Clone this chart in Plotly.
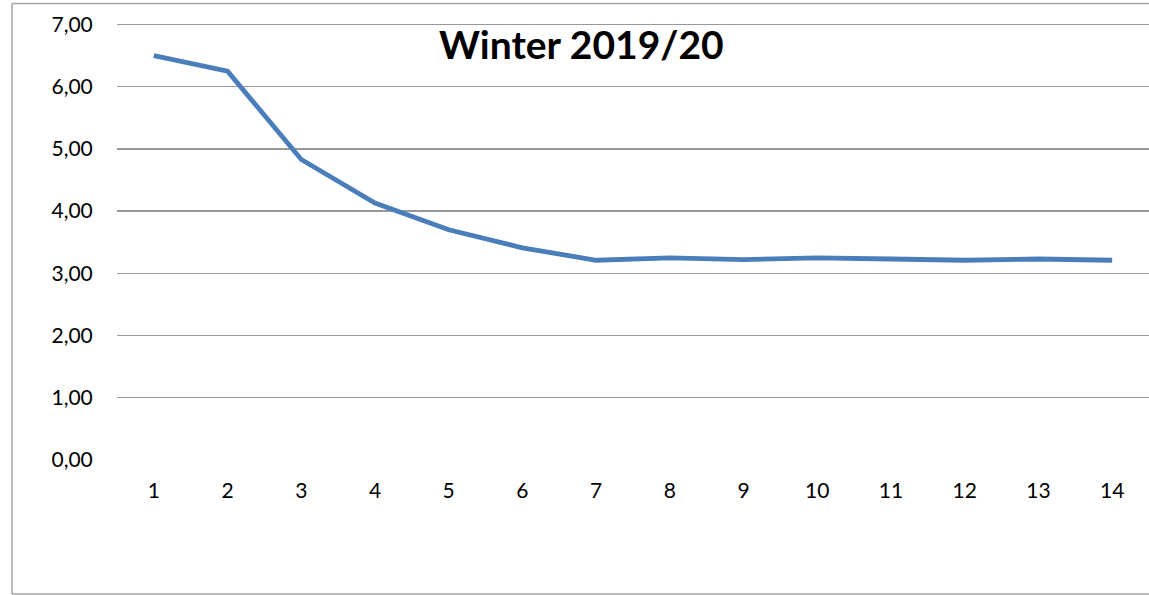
import plotly.graph_objects as go

categories = [str(i) for i in range(1, 15)]
values = [6.50, 6.25, 4.83, 4.13, 3.70, 3.41, 3.21, 3.25, 3.22, 3.25, 3.23, 3.21, 3.23, 3.21]
y_ticks = [0, 1, 2, 3, 4, 5, 6, 7]
y_tick_labels = ["0,00", "1,00", "2,00", "3,00", "4,00", "5,00", "6,00", "7,00"]
title_text = "Winter 2019/20"

W, H = 1149, 595
L, R, T, B = 117, 0, 12, 135
pw, ph = W - L - R, H - T - B

def px_x(p):
    return (p - L) / pw

def px_y(p):
    return 1 - (p - T) / ph

fig = go.Figure()
fig.add_trace(go.Scatter(
    x=categories, y=values, mode="lines",
    line=dict(color="#4a7ebb", width=4.8),
    hoverinfo="skip", showlegend=False,
))

font_family = "Lato, 'Open Sans', sans-serif"

fig.update_layout(
    width=W, height=H,
    margin=dict(l=L, r=R, t=T, b=B, pad=0),
    paper_bgcolor="white", plot_bgcolor="white",
    font=dict(family=font_family, color="#000000", size=21),
    xaxis=dict(
        type="category", range=[-0.5, 13.5],
        showgrid=False, zeroline=False, showline=False,
        ticks="outside", ticklen=12, tickcolor="rgba(0,0,0,0)",
        tickfont=dict(size=21, color="#000000"),
        fixedrange=True,
    ),
    yaxis=dict(
        range=[0, 7.2], tickvals=y_ticks, ticktext=y_tick_labels,
        showgrid=True, gridcolor="#989898", gridwidth=1.3,
        zeroline=False, showline=False,
        ticks="outside", ticklen=19, tickcolor="rgba(0,0,0,0)",
        tickfont=dict(size=21, color="#000000"),
        fixedrange=True,
    ),
    annotations=[dict(
        text="<b>" + title_text + "</b>",
        xref="paper", yref="paper", x=px_x(581), y=px_y(44),
        xanchor="center", yanchor="middle", showarrow=False,
        font=dict(family=font_family, size=39, color="#000000"),
    )],
    shapes=[
        dict(type="line", xref="paper", yref="paper",
             x0=px_x(12), x1=px_x(12), y0=px_y(594), y1=px_y(3.5),
             line=dict(color="#a6a6a6", width=1.5)),
        dict(type="line", xref="paper", yref="paper",
             x0=px_x(12), x1=px_x(1160), y0=px_y(3.5), y1=px_y(3.5),
             line=dict(color="#a6a6a6", width=1.5)),
        dict(type="line", xref="paper", yref="paper",
             x0=px_x(12), x1=px_x(1160), y0=px_y(594), y1=px_y(594),
             line=dict(color="#a6a6a6", width=1.5)),
    ],
)

fig.write_html(
    "out.html",
    config={"displayModeBar": False, "staticPlot": True},
    post_script="document.body.style.margin='0';document.body.style.overflow='hidden';",
)
